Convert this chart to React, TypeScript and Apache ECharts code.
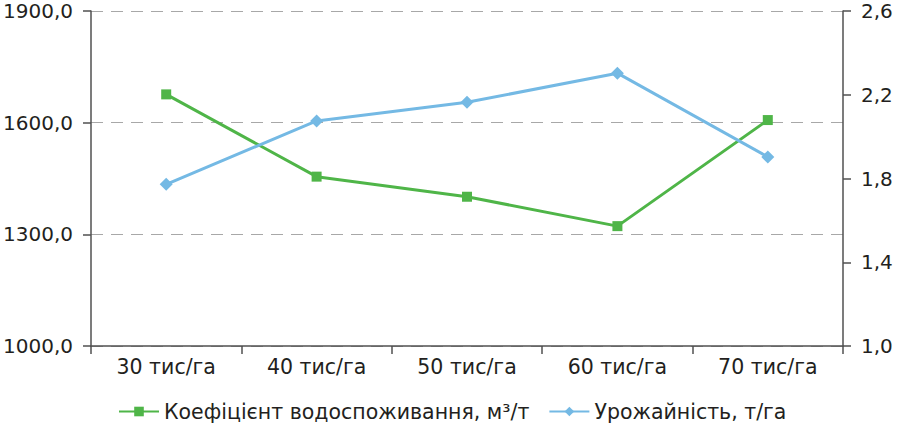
import React, { useEffect, useRef } from "react";
import * as echarts from "echarts";

const categories = ["30 тис/га", "40 тис/га", "50 тис/га", "60 тис/га", "70 тис/га"];
const waterCoef = [1676, 1455, 1401, 1322, 1607];
const yieldVals = [1.772, 2.075, 2.164, 2.303, 1.903];
const leftTicks = [1000, 1300, 1600, 1900];
const rightTicks = [1.0, 1.4, 1.8, 2.2, 2.6];
const seriesNames = ["Коефіцієнт водоспоживання, м³/т", "Урожайність, т/га"];

const FONT = "DejaVu Sans";
const TEXT = "#231f20";
const AXIS = "#505050";
const GREEN = "#4fb548";
const BLUE = "#74b9e4";

const fmt = (v: number) => v.toFixed(1).replace(".", ",");

export default function App() {
  const ref = useRef<HTMLDivElement>(null);
  useEffect(() => {
    if (!ref.current) return;
    const chart = echarts.init(ref.current, undefined, { renderer: "svg" });
    chart.setOption({
      animation: false,
      backgroundColor: "#ffffff",
      textStyle: { fontFamily: FONT },
      grid: { left: 91, right: 57, top: 11, bottom: 77, containLabel: false },
      legend: {
        left: 113,
        top: 396,
        itemWidth: 40,
        itemHeight: 12,
        itemGap: 19,
        textStyle: { fontFamily: FONT, fontSize: 20.5, color: TEXT },
        data: seriesNames,
      },
      xAxis: {
        type: "category",
        data: categories,
        boundaryGap: true,
        axisLine: { lineStyle: { color: AXIS, width: 1.5 } },
        axisTick: { show: true, length: 8, lineStyle: { color: AXIS, width: 1.5 } },
        axisLabel: { fontFamily: FONT, fontSize: 20.5, color: TEXT, margin: 10 },
        splitLine: { show: false },
      },
      yAxis: [
        {
          type: "value",
          min: leftTicks[0],
          max: leftTicks[leftTicks.length - 1],
          interval: 300,
          position: "left",
          axisLine: { show: true, lineStyle: { color: AXIS, width: 1.5 } },
          axisTick: { show: true, length: 8, lineStyle: { color: AXIS, width: 1.5 } },
          axisLabel: { fontFamily: FONT, fontSize: 20, color: TEXT, margin: 18, formatter: (v: number) => fmt(v) },
          splitLine: { show: true, lineStyle: { color: "#a8a8a8", type: [12, 8], width: 1.2 } },
        },
        {
          type: "value",
          min: rightTicks[0],
          max: rightTicks[rightTicks.length - 1],
          position: "right",
          axisLine: { show: true, lineStyle: { color: AXIS, width: 1.5 } },
          axisTick: { show: true, length: 8, customValues: rightTicks, lineStyle: { color: AXIS, width: 1.5 } },
          axisLabel: {
            fontFamily: FONT,
            fontSize: 20,
            color: TEXT,
            margin: 18,
            customValues: rightTicks,
            formatter: (v: number) => fmt(v),
          },
          splitLine: { show: false },
        },
      ],
      series: [
        {
          name: seriesNames[0],
          type: "line",
          yAxisIndex: 0,
          data: waterCoef,
          symbol: "rect",
          symbolSize: 10,
          lineStyle: { color: GREEN, width: 3 },
          itemStyle: { color: GREEN },
        },
        {
          name: seriesNames[1],
          type: "line",
          yAxisIndex: 1,
          data: yieldVals,
          symbol: "diamond",
          symbolSize: 13,
          lineStyle: { color: BLUE, width: 3 },
          itemStyle: { color: BLUE },
        },
      ],
    });
    return () => chart.dispose();
  }, []);
  return (
    <div
      ref={ref}
      style={{ position: "absolute", left: 0, top: 0, width: 900, height: 423 }}
    />
  );
}
